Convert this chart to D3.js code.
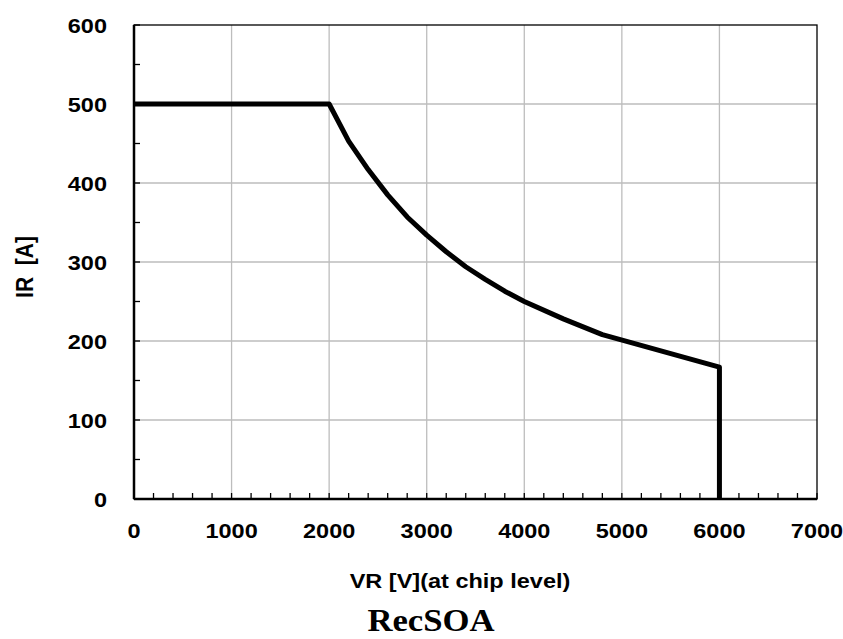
<!DOCTYPE html>
<html lang='en'>
<head>
  <meta charset='UTF-8'>
  <title>RecSOA</title>
  <style type='text/css'>
    body {
      margin: 0;
      background: #fff;
    }
    .tick-label {
      font-family: 'Liberation Sans', Arial, sans-serif;
      font-weight: bold;
      font-size: 21px;
      fill: #000;
    }
    .axis-title {
      font-family: 'Liberation Sans', Arial, sans-serif;
      font-weight: bold;
      font-size: 21px;
      white-space: pre;
    }
    .chart-title {
      font-family: 'Liberation Serif', 'Times New Roman', serif;
      font-weight: bold;
      font-size: 31px;
    }
  </style>
  <script type='text/javascript' src='https://d3js.org/d3.v7.min.js'></script>
</head>
<body>
  <script type='text/javascript'>
    // values
    const vr = [0, 2000, 2200, 2400, 2600, 2800, 3000, 3200, 3400, 3600, 3800, 4000, 4400, 4800, 6000, 6000]
    const ir = [500, 500, 453, 417, 385, 357, 334, 313, 294, 278, 263, 250, 228, 208, 167, 0]
    const xTicks = [0, 1000, 2000, 3000, 4000, 5000, 6000, 7000]
    const yTicks = [0, 100, 200, 300, 400, 500, 600]
    const xMinor = d3.range(0, 7001, 200)
    const yMinor = d3.range(0, 601, 50)

    const width = 843
    const height = 639
    const margin = {top: 25, right: 26, bottom: 140, left: 134}
    // the source text looks a bit wider than normal
    const stretch = 1.12

    const svg = d3.select('body').append('svg')
      .attr('width', width)
      .attr('height', height)

    const xScale = d3.scaleLinear().domain([0, 7000]).range([margin.left, width - margin.right])
    const yScale = d3.scaleLinear().domain([0, 600]).range([height - margin.bottom, margin.top])

    // grid
    svg.append('g').selectAll('line')
      .data(xTicks.slice(1, -1))
      .enter().append('line')
      .attr('x1', d => xScale(d)).attr('x2', d => xScale(d))
      .attr('y1', yScale(600)).attr('y2', yScale(0))
      .style('stroke', '#bdbdbd').style('stroke-width', 1.3)

    svg.append('g').selectAll('line')
      .data(yTicks.slice(1, -1))
      .enter().append('line')
      .attr('x1', xScale(0)).attr('x2', xScale(7000))
      .attr('y1', d => yScale(d)).attr('y2', d => yScale(d))
      .style('stroke', '#bdbdbd').style('stroke-width', 1.3)

    // frame
    svg.append('rect')
      .attr('x', xScale(0)).attr('y', yScale(600))
      .attr('width', xScale(7000) - xScale(0))
      .attr('height', yScale(0) - yScale(600))
      .style('fill', 'none').style('stroke', '#000').style('stroke-width', 1.3)

    // minor ticks (inside)
    svg.append('g').selectAll('line')
      .data(xMinor)
      .enter().append('line')
      .attr('x1', d => xScale(d)).attr('x2', d => xScale(d))
      .attr('y1', yScale(0)).attr('y2', yScale(0) - 6)
      .style('stroke', '#000').style('stroke-width', 1.3)

    svg.append('g').selectAll('line')
      .data(yMinor)
      .enter().append('line')
      .attr('x1', xScale(0)).attr('x2', xScale(0) + 6)
      .attr('y1', d => yScale(d)).attr('y2', d => yScale(d))
      .style('stroke', '#000').style('stroke-width', 1.3)

    // axis lines
    svg.append('line')
      .attr('x1', xScale(0)).attr('x2', xScale(7000))
      .attr('y1', yScale(0)).attr('y2', yScale(0))
      .style('stroke', '#000').style('stroke-width', 2.5)
    svg.append('line')
      .attr('x1', xScale(0)).attr('x2', xScale(0))
      .attr('y1', yScale(0)).attr('y2', yScale(600))
      .style('stroke', '#000').style('stroke-width', 2.5)

    // tick labels
    svg.append('g').selectAll('text')
      .data(xTicks)
      .enter().append('text')
      .attr('class', 'tick-label')
      .attr('transform', d => `translate(${xScale(d)},${yScale(0) + 39}) scale(${stretch},1)`)
      .attr('text-anchor', 'middle')
      .text(d => d)

    svg.append('g').selectAll('text')
      .data(yTicks)
      .enter().append('text')
      .attr('class', 'tick-label')
      .attr('transform', d => `translate(${xScale(0) - 27},${yScale(d) + 8}) scale(${stretch},1)`)
      .attr('text-anchor', 'end')
      .text(d => d)

    // curve
    const line = d3.line()
      .x((d, i) => xScale(vr[i]))
      .y((d, i) => yScale(ir[i]))

    svg.append('path')
      .datum(ir)
      .attr('d', line)
      .style('fill', 'none')
      .style('stroke', '#000')
      .style('stroke-width', 5)
      .style('stroke-linejoin', 'round')

    // titles
    svg.append('text')
      .attr('class', 'axis-title')
      .attr('transform', `translate(460,588) scale(${stretch},1)`)
      .attr('text-anchor', 'middle')
      .text('VR [V](at chip level)')

    svg.append('text')
      .attr('class', 'axis-title')
      .attr('transform', `translate(33,267) scale(${stretch},1) rotate(-90)`)
      .attr('text-anchor', 'middle')
      .text('IR  [A]')

    svg.append('text')
      .attr('class', 'chart-title')
      .attr('transform', `translate(431,631) scale(${stretch},1)`)
      .attr('text-anchor', 'middle')
      .text('RecSOA')
  </script>
</body>
</html>
